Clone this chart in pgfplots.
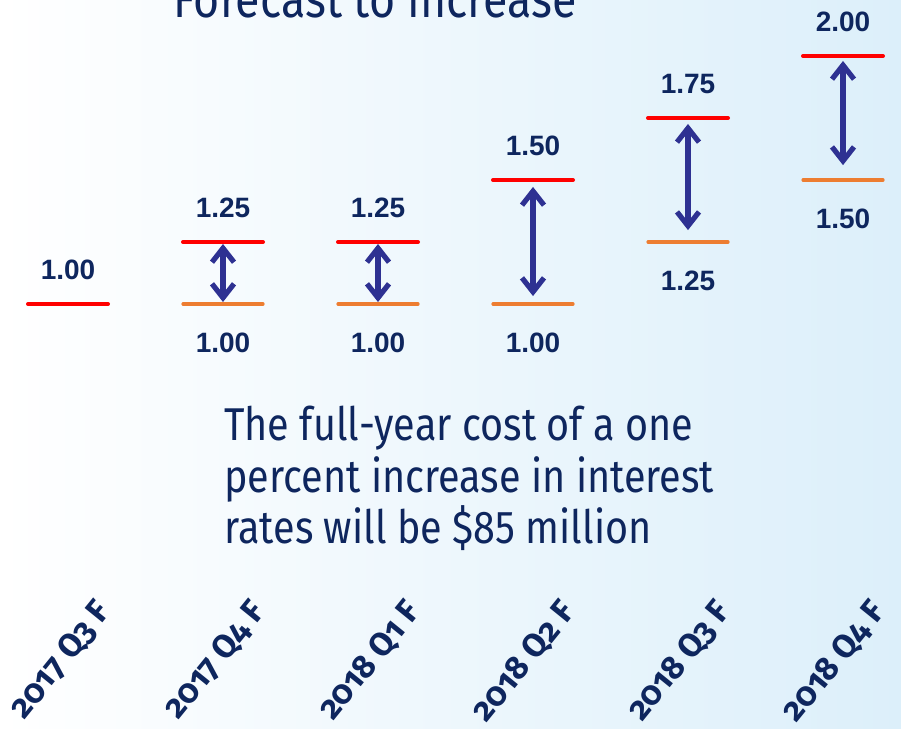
\documentclass[border=0pt]{standalone}
\usepackage{pgfplots}
\pgfplotsset{compat=1.18}
\usepackage{pgfplotstable}
\usepackage{fontspec}
\setmainfont{Liberation Sans}
\newfontfamily\fira[FakeStretch=0.86]{Fira Sans}
\newfontfamily\firaold[Numbers=OldStyle]{Fira Sans}
\usetikzlibrary{arrows.meta}

\definecolor{navy}{RGB}{14,38,94}
\definecolor{arrowblue}{RGB}{46,49,146}
\definecolor{hiRed}{RGB}{255,0,0}
\definecolor{loOrange}{RGB}{237,125,49}
\definecolor{bgBlue}{RGB}{220,239,250}

% upper bound of each quarter's forecast (red)
\pgfplotstableread{
x high
0 1.00
1 1.25
2 1.25
3 1.50
4 1.75
5 2.00
}\hightab
% lower bound (orange)
\pgfplotstableread{
x low
1 1.00
2 1.00
3 1.00
4 1.25
5 1.50
}\lowtab

\tikzset{rangearrow/.style={arrowblue, line width=2.6pt,
  {Straight Barb[length=7pt,width=11pt]}-{Straight Barb[length=7pt,width=11pt]}}}
\pgfplotsset{valuelabels/.style={
  nodes near coords={\pgfmathprintnumber[assume math mode=true,fixed,fixed zerofill,precision=2]{\pgfplotspointmeta}},
  every node near coord/.style={font=\bfseries\fontsize{14}{14}\selectfont, text=navy, anchor=center, yshift=#1}}}

\begin{document}
\begin{tikzpicture}
\useasboundingbox (0,0) rectangle (450.5pt,364.5pt);
\clip (0,0) rectangle (450.5pt,364.5pt);
\begin{axis}[
  at={(0,0)}, anchor=south west,
  scale only axis, width=450.5pt, height=364.5pt,
  xmin=-0.43871, xmax=5.37419, ymin=-0.71371, ymax=2.22581,
  axis line style={draw=none},
  xtick=\empty, ytick=\empty,
  axis background/.style={left color=white, right color=bgBlue},
  clip=false,
]

\addplot[only marks, mark=-, mark size=20pt, color=hiRed,
  mark options={line width=2pt, line cap=round}, valuelabels=17pt]
  table[x=x, y=high] {\hightab};

\addplot[only marks, mark=-, mark size=20pt, color=loOrange,
  mark options={line width=1.6pt, line cap=round}, valuelabels=-19.5pt]
  table[x=x, y=low] {\lowtab};

\addplot[rangearrow] coordinates {(1,1.242) (1,1.008)};
\addplot[rangearrow] coordinates {(2,1.242) (2,1.008)};
\addplot[rangearrow] coordinates {(3,1.472) (3,1.032)};
\addplot[rangearrow] coordinates {(4,1.726) (4,1.298)};
\addplot[rangearrow] coordinates {(5,1.98) (5,1.56)};

\node[anchor=base, font=\fira\fontsize{26}{26}\selectfont, text=navy]
  at (axis cs:1.981,2.157) {Forecast to increase};

\node[anchor=north west, align=left, inner sep=0pt,
  font=\fira\fontsize{23}{25.75}\selectfont, text=navy]
  at (axis cs:1.006,0.5887)
  {The full-year cost of a one\\percent increase in interest\\rates will be \$85 million};

\tikzset{qlabel/.style={rotate=51, anchor=base east, inner sep=0pt,
  font=\firaold\bfseries\fontsize{16.5}{16.5}\selectfont, text=navy}}
\node[qlabel] at (axis cs:0.284,-0.242) {2017 Q3 F};
\node[qlabel] at (axis cs:1.284,-0.242) {2017 Q4 F};
\node[qlabel] at (axis cs:2.284,-0.242) {2018 Q1 F};
\node[qlabel] at (axis cs:3.284,-0.242) {2018 Q2 F};
\node[qlabel] at (axis cs:4.284,-0.242) {2018 Q3 F};
\node[qlabel] at (axis cs:5.284,-0.242) {2018 Q4 F};
\end{axis}
\end{tikzpicture}
\end{document}
